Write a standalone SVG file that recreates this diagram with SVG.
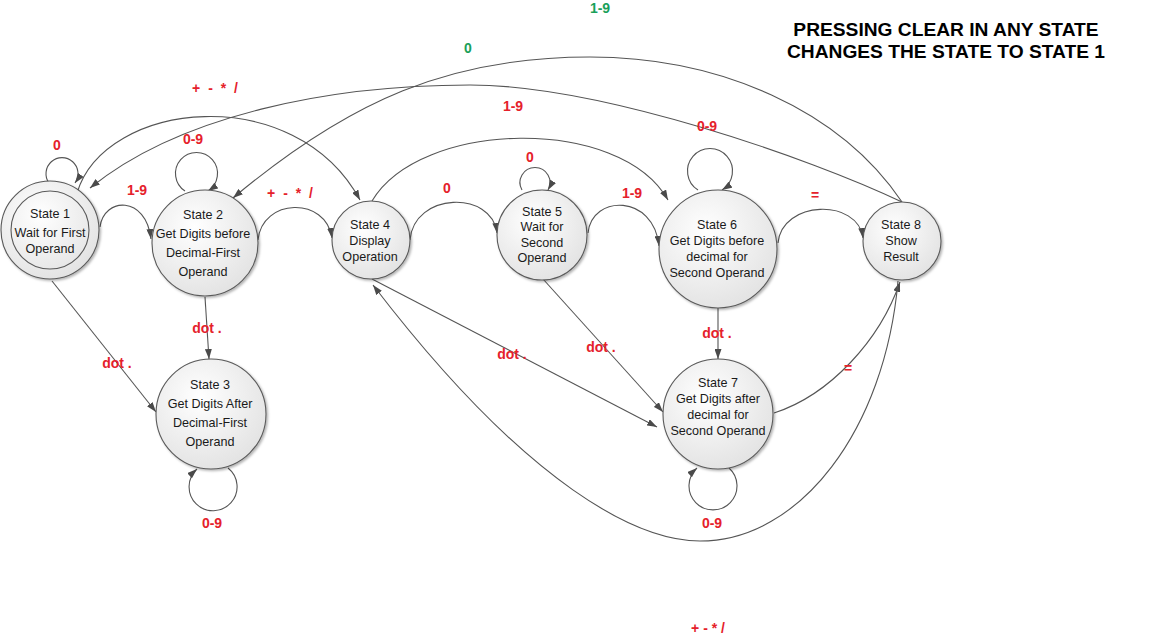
<svg xmlns="http://www.w3.org/2000/svg" width="1152" height="639" viewBox="0 0 1152 639">
<style>
.st{fill:url(#g);stroke:#5a5a5a;stroke-width:1.1;filter:url(#sh)}
.tx{font-family:"Liberation Sans",Arial,sans-serif;font-size:12.6px;fill:#1a1a1a;text-anchor:middle}
.e path{fill:none;stroke:#555;stroke-width:1.1}
.e .a{marker-end:url(#arr)}
.lb{font-family:"Liberation Sans",Arial,sans-serif;font-size:14px;font-weight:bold;fill:#e5212b;text-anchor:middle}
.gr{fill:#1aa05a}
.ops{word-spacing:4px}
.title{font-family:"Liberation Sans",Arial,sans-serif;font-size:19.2px;font-weight:bold;fill:#000;text-anchor:middle}
</style>
<defs>
<radialGradient id="g" cx="40%" cy="35%" r="70%">
<stop offset="0" stop-color="#ffffff"/>
<stop offset="1" stop-color="#e2e2e2"/>
</radialGradient>
<filter id="sh" x="-20%" y="-20%" width="150%" height="150%">
<feDropShadow dx="1.5" dy="1.5" stdDeviation="1.2" flood-color="#000" flood-opacity="0.3"/>
</filter>
<marker id="arr" viewBox="0 0 10 7" refX="10" refY="3.5" markerWidth="10" markerHeight="7" markerUnits="userSpaceOnUse" orient="auto">
<path d="M0,0 L10,3.5 L0,7 z" fill="#4a4a4a"/>
</marker>
</defs>
<rect width="1152" height="639" fill="#fff"/>

<g id="connectors" class="e">
<path class="a" d="M49,183 A16 16 0 1 1 75,183"/>
<path class="a" d="M100,227 C104,197 146,195 151,239"/>
<path class="a" d="M185,191 A21 21 0 1 1 208,191"/>
<path class="a" d="M258,240 C262,198 326,196 332,238"/>
<path class="a" d="M410,240 C414,192 492,190 497,233"/>
<path class="a" d="M522,190 A15 15 0 1 1 548,190"/>
<path class="a" d="M588,233 C592,194 654,194 659,246"/>
<path class="a" d="M698,190 A22.5 22.5 0 1 1 722,190"/>
<path class="a" d="M778,243 C782,200 858,198 863,238"/>
<path class="a" d="M372,201 C420,120 620,115 668,200"/>
<path class="a" d="M77,193 C105,100 295,80 360,200"/>
<path class="a" d="M902,202 C810,158 600,85 470,85 C330,85 180,115 90,188"/>
<path class="a" d="M902,202 C840,110 720,57 590,57 C450,57 350,100 233,198"/>
<path class="a" d="M52,281 L156,412"/>
<path class="a" d="M205,297 L209,359"/>
<path class="a" d="M228,468 A24 24 0 1 1 197,469"/>
<path class="a" d="M718,308 L718,359"/>
<path class="a" d="M372,279 L657,427"/>
<path class="a" d="M543,279 L663,412"/>
<path class="a" d="M729,468 A24 24 0 1 1 697,468"/>
<path class="a" d="M774,413 C830,395 880,340 900,282"/>
<path class="a" d="M898,281 C885,430 800,541 700,541 C640,541 530,490 373,285"/>
</g>

<g id="state1">
<circle class="st" cx="50" cy="230" r="49"/>
<circle cx="50" cy="230" r="39" fill="none" stroke="#5a5a5a" stroke-width="1.1"/>
<text class="tx" x="50" y="217.5">State 1</text>
<text class="tx" x="50" y="236.5">Wait for First</text>
<text class="tx" x="50" y="252.5">Operand</text>
</g>
<g id="state2">
<circle class="st" cx="205" cy="243" r="53"/>
<text class="tx" x="203" y="218.5">State 2</text>
<text class="tx" x="203" y="237.5">Get Digits before</text>
<text class="tx" x="203" y="256.5">Decimal-First</text>
<text class="tx" x="203" y="275.5">Operand</text>
</g>
<g id="state3">
<circle class="st" cx="211" cy="414" r="55"/>
<text class="tx" x="210" y="388.5">State 3</text>
<text class="tx" x="210" y="407.5">Get Digits After</text>
<text class="tx" x="210" y="426.5">Decimal-First</text>
<text class="tx" x="210" y="445.5">Operand</text>
</g>
<g id="state4">
<circle class="st" cx="371" cy="240" r="39"/>
<text class="tx" x="370" y="228.5">State 4</text>
<text class="tx" x="370" y="244.5">Display</text>
<text class="tx" x="370" y="260.5">Operation</text>
</g>
<g id="state5">
<circle class="st" cx="542" cy="235" r="45"/>
<text class="tx" x="542" y="215.5">State 5</text>
<text class="tx" x="542" y="231">Wait for</text>
<text class="tx" x="542" y="246.5">Second</text>
<text class="tx" x="542" y="262">Operand</text>
</g>
<g id="state6">
<circle class="st" cx="718" cy="249" r="59"/>
<text class="tx" x="717" y="229">State 6</text>
<text class="tx" x="717" y="245">Get Digits before</text>
<text class="tx" x="717" y="260.5">decimal for</text>
<text class="tx" x="717" y="276.5">Second Operand</text>
</g>
<g id="state7">
<circle class="st" cx="718" cy="414" r="55"/>
<text class="tx" x="718" y="386.5">State 7</text>
<text class="tx" x="718" y="402.5">Get Digits after</text>
<text class="tx" x="718" y="418.5">decimal for</text>
<text class="tx" x="718" y="434.5">Second Operand</text>
</g>
<g id="state8">
<circle class="st" cx="902" cy="241" r="39"/>
<text class="tx" x="901" y="228.5">State 8</text>
<text class="tx" x="901" y="244.5">Show</text>
<text class="tx" x="901" y="260.5">Result</text>
</g>

<g id="labels">
<text class="lb" x="57" y="150">0</text>
<text class="lb" x="137" y="195">1-9</text>
<text class="lb" x="193" y="144">0-9</text>
<text class="lb ops" x="215" y="93">+ - * /</text>
<text class="lb ops" x="290" y="198">+ - * /</text>
<text class="lb" x="447" y="193">0</text>
<text class="lb" x="530" y="162">0</text>
<text class="lb" x="632" y="198">1-9</text>
<text class="lb" x="707" y="131">0-9</text>
<text class="lb" x="815" y="200">=</text>
<text class="lb" x="513" y="111">1-9</text>
<text class="lb gr" x="468" y="53">0</text>
<text class="lb gr" x="600" y="13">1-9</text>
<text class="lb" x="717" y="338">dot .</text>
<text class="lb" x="117" y="368">dot .</text>
<text class="lb" x="207" y="333">dot .</text>
<text class="lb" x="512" y="359">dot .</text>
<text class="lb" x="601" y="352">dot .</text>
<text class="lb" x="848" y="373">=</text>
<text class="lb" x="212" y="528">0-9</text>
<text class="lb" x="712" y="528">0-9</text>
<text class="lb" x="708" y="633">+ - * /</text>
</g>

<g id="note">
<text class="title" x="946" y="36">PRESSING CLEAR IN ANY STATE</text>
<text class="title" x="946" y="57.5">CHANGES THE STATE TO STATE 1</text>
</g>
</svg>
